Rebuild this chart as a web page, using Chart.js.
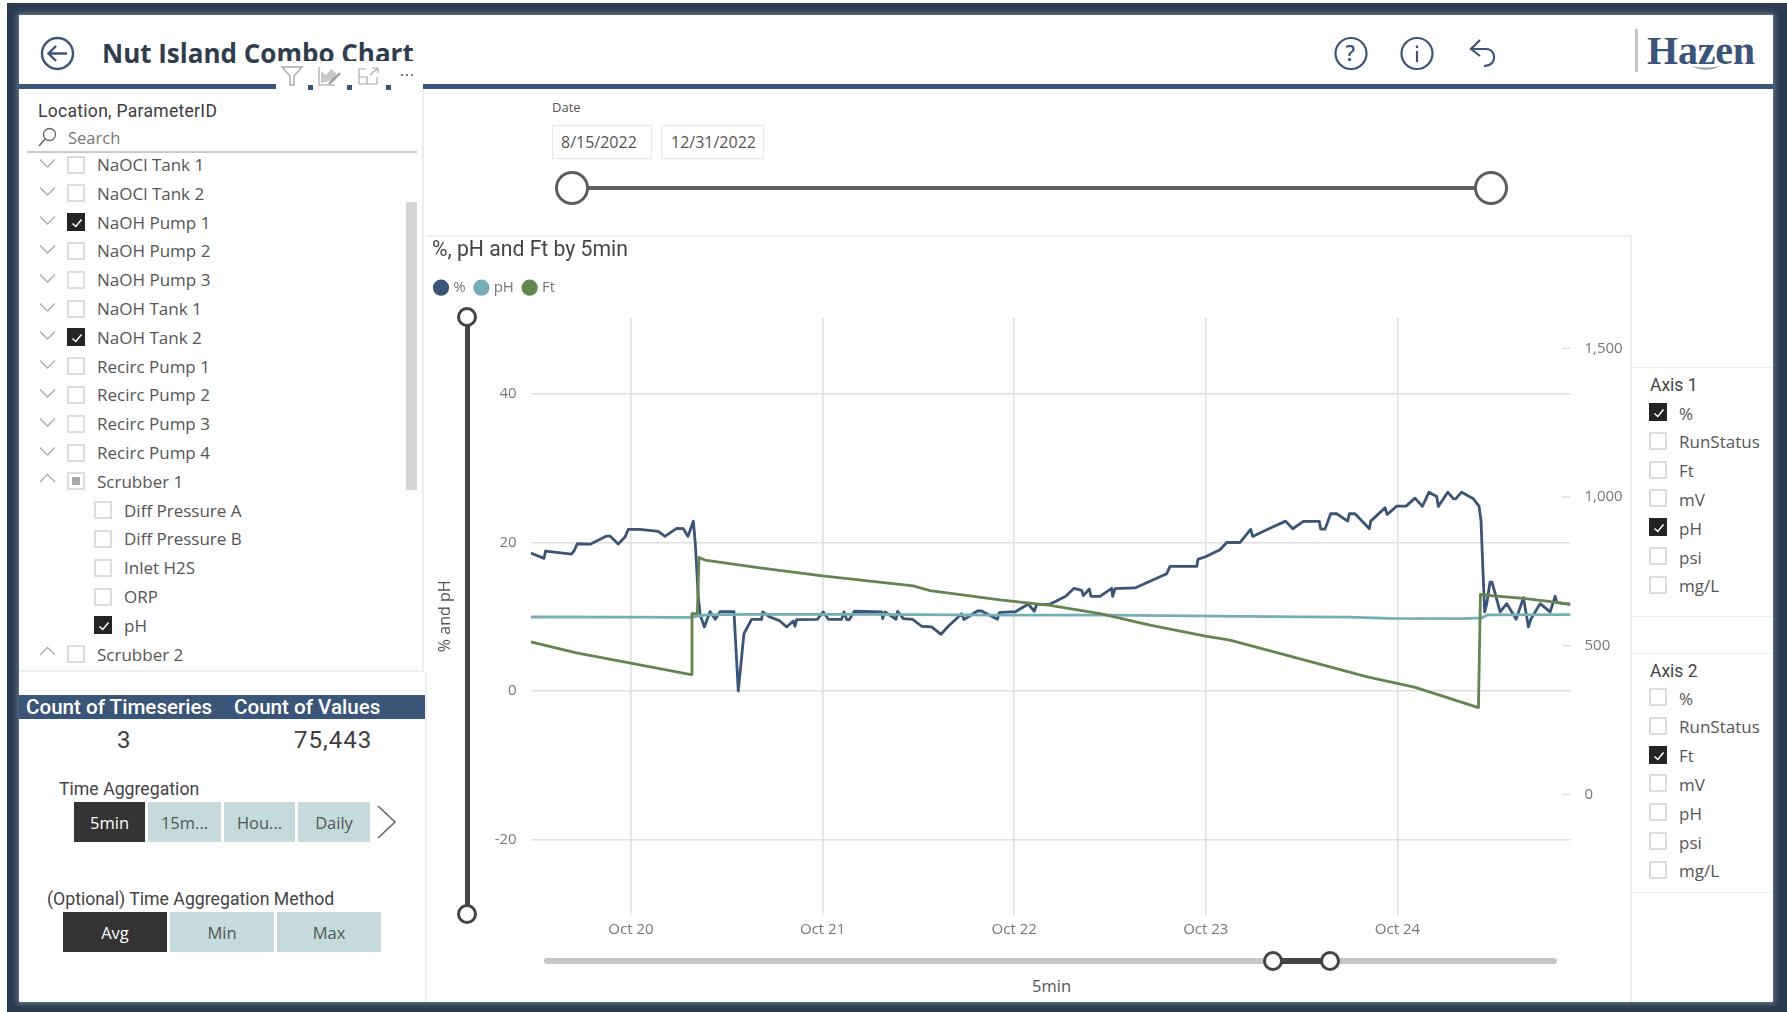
<!DOCTYPE html>
<html>
<head>
<meta charset="utf-8">
<title>Nut Island Combo Chart</title>
<script src="https://cdn.jsdelivr.net/npm/chart.js@4/dist/chart.umd.js"></script>
<style>
  html, body { margin: 0; padding: 0; background: #fff; overflow: hidden; }
  #page { position: relative; width: 1787px; height: 1012px; overflow: hidden; font-family: "Open Sans", sans-serif; color: #444; }
  .abs { position: absolute; }
  .t { position: absolute; white-space: nowrap; transform: translateY(-50%); line-height: 1.2; }
  .din { font-family: Roboto, sans-serif; }
  svg { position: absolute; overflow: visible; }
  #frame { position: absolute; left: 7px; top: 3px; width: 1780px; height: 1009px; background: #2a3a4f; }
  #sheet { position: absolute; left: 19px; top: 15px; width: 1754px; height: 987px; background: #fff; box-shadow: 0 0 5px 2px rgba(120,135,155,.75); }
  .box { position: absolute; box-sizing: border-box; width: 18px; height: 18px; border: 2px solid #dcdcdc; background: #fff; }
  .box.on { background: #252423; border-color: #252423; }
  .box.on svg { left: 1px; top: 1px; }
  .box.mixed::after { content: ""; position: absolute; left: 3px; top: 3px; width: 8px; height: 8px; background: #a8a8a8; }
  .btn { position: absolute; background: #c5dadd; color: #555; display: flex; align-items: center; justify-content: center; font-size: 16.5px; }
  .btn.on { background: #333; color: #fff; }
  #chartWrap { position: absolute; left: 427px; top: 236px; width: 1201px; height: 714px; }
</style>
</head>
<body>
<div id="page">
  <div id="frame"></div>
  <div id="sheet"></div>
  <div id="chartWrap"><canvas id="combo" width="1201" height="714"></canvas></div>
</div>
<script>
// ---- Series: hours relative to midnight on Oct 20, values in each series' own unit ----
const pctHours = [-12.56,-10.9,-10.69,-7.43,-7.1,-6.72,-5.05,-3.05,-2.63,-1.59,-0.75,-0.33,1.13,3.42,4.26,5.72,6.56,7.14,7.52,7.81,8.06,8.43,8.68,9.19,9.9,10.56,11.15,12.9,13.44,14.15,15.11,16.37,16.49,17.41,18.66,19.5,20.33,20.54,20.75,23.34,24.09,24.72,26.39,26.68,27.02,27.35,27.98,31.4,31.52,31.82,33.2,33.41,34.11,35.28,36.41,37.66,38.83,39.75,41.42,41.71,43.38,43.93,45.89,46.14,47.48,48.1,49.77,50.52,50.82,52.49,54.45,55.5,56.45,56.66,57.41,57.62,58.75,60.21,60.34,60.63,63.13,67.1,67.52,70.86,71.03,71.9,73.78,74.62,76.29,77.62,77.87,79.63,82,82.88,84.22,86.22,86.39,86.94,87.64,88.4,89.77,89.98,90.69,92.49,92.66,94.45,94.74,95.91,97.08,98.21,99.13,99.96,100.92,101.13,102.3,103.01,103.3,104.05,105.51,106.22,106.47,106.68,106.93,107.19,107.6,107.85,108.87,109.7,110.87,111.79,112.41,112.71,113.88,115.13,115.76,115.97,117.68];
const pctValues = [18.58,17.86,18.85,18.44,18.94,19.83,19.79,20.87,20.87,19.79,20.73,21.76,21.76,21.49,20.82,21.9,21.85,20.82,21.99,22.88,19.83,12.66,10.19,8.62,10.68,9.65,10.68,10.68,0,7.72,9.65,9.65,10.64,9.96,9.43,8.62,9.43,8.71,9.61,9.65,10.64,9.65,9.65,10.64,9.61,9.61,10.73,10.64,9.74,10.64,9.65,10.73,9.74,9.65,8.71,8.62,7.63,8.71,10.41,9.61,10.77,10.77,9.65,10.55,10.64,10.64,11.71,10.73,11.67,11.67,12.75,13.82,13.55,12.84,13.73,12.75,12.75,13.82,12.75,13.78,13.87,15.8,16.78,16.78,17.77,18.04,19.03,20,20,21.76,20.82,21.72,22.88,21.85,22.84,22.84,21.81,21.81,23.87,23.87,22.88,23.87,23.87,21.85,22.88,24.68,23.78,24.9,24.9,25.98,24.86,26.78,26.2,24.86,26.78,25.89,25.89,26.78,25.89,24.9,22.97,17.14,10.64,11.76,14.67,14.67,10.64,11.76,9.65,12.57,8.62,9.65,11.76,10.64,12.75,11.89,11.67];

const phHours = [-12.56,0,6,7.5,8.5,9.5,15,30,46,60,70,80,90,95,104,106.6,107.3,117.68];
const phValues = [9.96,9.95,9.92,9.9,10.1,10.25,10.3,10.3,10.2,10.2,10.1,10,9.95,9.78,9.75,9.85,10.25,10.28];

const ftHours = [-12.56,-6.81,7.52,7.64,8.31,8.52,9.27,16.16,23.97,35.37,37.45,46.22,52.49,58.75,65.01,71.97,75.03,92.24,98.24,106.15,106.4,108.02,111.78,114.7,117.65];
const ftValues = [513,476,403,608,608,797,788,762,735,701,685,654,636,608,569,532,519,395,360,292,673,668,659,650,640];

const seriesNames = ['%', 'pH', 'Ft'];
const dayHours = [0, 24, 48, 72, 96];
const dayLabels = ['Oct 20', 'Oct 21', 'Oct 22', 'Oct 23', 'Oct 24'];
const leftTicks = [-20, 0, 20, 40];
const rightTicks = [0, 500, 1000, 1500];

// ---- Slicer and card contents ----
const locationRows = ['NaOCl Tank 1','NaOCl Tank 2','NaOH Pump 1','NaOH Pump 2','NaOH Pump 3','NaOH Tank 1','NaOH Tank 2','Recirc Pump 1','Recirc Pump 2','Recirc Pump 3','Recirc Pump 4','Scrubber 1','Diff Pressure A','Diff Pressure B','Inlet H2S','ORP','pH','Scrubber 2'];
const locationChecked = ['NaOH Pump 1','NaOH Tank 2','pH'];
const locationChildren = ['Diff Pressure A','Diff Pressure B','Inlet H2S','ORP','pH'];
const unitRows = ['%','RunStatus','Ft','mV','pH','psi','mg/L'];
const axis1Checked = ['%','pH'];
const axis2Checked = ['Ft'];

const NAVY = '#3b5578', TEAL = '#76aeb5', GREEN = '#64854d', INK = '#444', SOFT = '#777';
const page = document.getElementById('page');

function text(x, y, str, css, cls) {
  const el = document.createElement('div');
  el.className = 't ' + (cls || '');
  el.style.left = x + 'px';
  el.style.top = y + 'px';
  el.style.cssText += css || '';
  el.textContent = str;
  page.appendChild(el);
  return el;
}
function rect(x, y, w, h, css) {
  const el = document.createElement('div');
  el.className = 'abs';
  el.style.cssText = `left:${x}px;top:${y}px;width:${w}px;height:${h}px;` + (css || '');
  page.appendChild(el);
  return el;
}
function svg(x, y, w, h, inner) {
  const ns = 'http://www.w3.org/2000/svg';
  const s = document.createElementNS(ns, 'svg');
  s.setAttribute('width', w); s.setAttribute('height', h);
  s.setAttribute('viewBox', `0 0 ${w} ${h}`);
  s.style.left = x + 'px'; s.style.top = y + 'px';
  s.innerHTML = inner;
  page.appendChild(s);
  return s;
}
function checkbox(x, cy, state) {
  const b = document.createElement('div');
  b.className = 'box' + (state === 'on' ? ' on' : state === 'mixed' ? ' mixed' : '');
  b.style.left = x + 'px';
  b.style.top = (cy - 9) + 'px';
  if (state === 'on') {
    b.innerHTML = '<svg width="14" height="14" viewBox="0 0 14 14"><path d="M2.5 7.5 L5.8 10.5 L11.5 3.5" fill="none" stroke="#fff" stroke-width="1.5"/></svg>';
  }
  page.appendChild(b);
}

// ---- Header ----
text(102, 53.5, 'Nut Island Combo Chart', 'font-size:26px;font-weight:700;color:#2f3d4e;');
svg(40, 36, 36, 36, `<circle cx="17.5" cy="17.5" r="15.5" fill="none" stroke="${NAVY}" stroke-width="2.4"/><path d="M27 17.5 H9 M16 10 L8.5 17.5 L16 25" fill="none" stroke="${NAVY}" stroke-width="2.4"/>`);
svg(1334, 36, 36, 36, `<circle cx="17" cy="17.5" r="15.5" fill="none" stroke="${NAVY}" stroke-width="2.2"/>`);
text(1345.5, 53.5, '?', `font-size:21px;color:${NAVY};font-weight:600;`);
svg(1400, 36, 36, 36, `<circle cx="17" cy="17.5" r="15.5" fill="none" stroke="${NAVY}" stroke-width="2.2"/><path d="M17 15 V26 M17 9.5 V12" fill="none" stroke="${NAVY}" stroke-width="2.2"/>`);
svg(1468, 38, 30, 30, `<path d="M12 2 L3 11 L12 18 M3 11 H18 C26 11 28 20 24 25 C22 27 20 28 16 28" fill="none" stroke="${NAVY}" stroke-width="2.2"/>`);
rect(1635, 29, 2.5, 43, 'background:#c8c8c8;');
text(1647, 51, 'Hazen', `font-family:"Liberation Serif",serif;font-size:40px;font-weight:700;color:${NAVY};letter-spacing:-0.2px;`);
svg(1690, 65, 32, 7, `<path d="M2 1 C10 6 22 6 30 1 C22 3 10 3 2 1 Z" fill="#8fa3b5"/>`);

// Rule below the header with the visual's hover toolbar interrupting it
rect(19, 83.5, 1754, 5.5, `background:${NAVY};`);
rect(276, 60.5, 147, 29.5, 'background:#fff;');
rect(308, 85, 5, 5, `background:${NAVY};`);
rect(347, 85, 5, 5, `background:${NAVY};`);
rect(386, 85, 5, 5, `background:${NAVY};`);
svg(280, 64, 24, 24, `<path d="M2 3 H22 L14 12 V21 L10 21 V12 Z" fill="none" stroke="#a9a9a9" stroke-width="1.4"/>`);
svg(318, 65, 24, 22, `<path d="M1 2 V20 H17" fill="none" stroke="#bdbdbd" stroke-width="1.6"/><path d="M3 6 L8 10 L13 4 L18 8 V14 L3 18 Z" fill="#c8c8c8"/><path d="M11 19 L22 8" stroke="#9a9a9a" stroke-width="2.4"/>`);
svg(358, 66, 22, 20, `<path d="M8 3 H1 V18 H19 V11 M1 11 H9 V18 M12 9 L20 2 M14 2 H20 V7" fill="none" stroke="#a9a9a9" stroke-width="1.2"/>`);
[402, 407, 412].forEach(x => rect(x - 1, 74, 2, 2, 'background:#777;'));

// ---- Location slicer ----
rect(19, 90, 405, 582, 'box-sizing:border-box;border-right:2px solid #eee;border-bottom:2px solid #eee;');
text(38, 111, 'Location, ParameterID', 'font-size:17.5px;letter-spacing:.3px;color:#3c3c3c;', 'din');
svg(38, 127, 20, 20, `<circle cx="11.5" cy="7.5" r="6" fill="none" stroke="#666" stroke-width="1.3"/><path d="M7 12 L1 19" stroke="#666" stroke-width="1.4"/>`);
text(68, 138, 'Search', 'font-size:16.5px;color:#777;');
rect(27, 151, 390, 1.5, 'background:#c8c8c8;');
rect(405.5, 201.5, 11, 288, 'background:#d4d4d4;');

locationRows.forEach((name, i) => {
  const cy = 165 + 28.8 * i;
  const child = locationChildren.includes(name) && i > 11;
  const indent = child ? 27 : 0;
  const expanded = name.startsWith('Scrubber');
  if (!child) {
    const chev = expanded ? 'M1 9 L8.5 1.5 L16 9' : 'M1 1.5 L8.5 9 L16 1.5';
    svg(38.5, cy - (expanded ? 9 : 7.5), 18, 11, `<path d="${chev}" fill="none" stroke="#aaa" stroke-width="1.3"/>`);
  }
  const state = locationChecked.includes(name) ? 'on' : name === 'Scrubber 1' ? 'mixed' : '';
  checkbox(67 + indent, cy - 0.5, state);
  text(97 + indent, cy, name, 'font-size:17px;color:#555;');
});

// ---- Count card ----
rect(19, 695, 406, 23.5, `background:${NAVY};`);
text(26, 707, 'Count of Timeseries', 'font-size:20.6px;font-weight:500;color:#fff;', 'din');
text(234, 707, 'Count of Values', 'font-size:20.6px;font-weight:500;color:#fff;', 'din');
text(117, 740, '3', 'font-size:24px;color:#3d3d3d;', 'din');
text(294, 740, '75,443', 'font-size:24px;color:#3d3d3d;letter-spacing:1px;', 'din');

// ---- Aggregation buttons ----
text(59, 790, 'Time Aggregation', 'font-size:17.7px;color:#444;', 'din');
[['5min',74,71,true],['15m...',148,73],['Hou...',224,71],['Daily',298,72]].forEach(([label,x,w,on]) => {
  const b = rect(x, 802, w, 40);
  b.className = 'btn' + (on ? ' on' : '');
  b.textContent = label;
});
svg(376, 804, 22, 36, `<path d="M2 2 L19 18 L2 34" fill="none" stroke="#666" stroke-width="1.6"/>`);
text(47, 900, '(Optional) Time Aggregation Method', 'font-size:17.7px;color:#444;', 'din');
[['Avg',63,104,true],['Min',170,104],['Max',277,104]].forEach(([label,x,w,on]) => {
  const b = rect(x, 912, w, 40);
  b.className = 'btn' + (on ? ' on' : '');
  b.textContent = label;
});
rect(425, 672, 1.5, 330, 'background:#eee;');

// ---- Date slicer ----
text(552, 108, 'Date', 'font-size:13px;color:#555;');
rect(552, 125, 100, 33.5, 'box-sizing:border-box;border:1.5px solid #e8e8e8;');
rect(661, 125, 103, 33.5, 'box-sizing:border-box;border:1.5px solid #e8e8e8;');
text(561, 143, '8/15/2022', 'font-size:16px;color:#555;');
text(671, 143, '12/31/2022', 'font-size:16px;color:#555;');
rect(572, 186, 919, 4, 'background:#605e5c;');
[572, 1491].forEach(x => rect(x - 17, 171, 34, 34, 'box-sizing:border-box;border:3px solid #605e5c;border-radius:50%;background:#fff;'));

// ---- Chart card borders and zoom sliders ----
rect(427, 235, 1203, 1.5, 'background:#eee;');
rect(1630, 235, 1.5, 767, 'background:#eee;');
rect(465, 317, 5, 597, 'background:#444;');
[317, 914].forEach(y => rect(457, y - 10, 20, 20, 'box-sizing:border-box;border:3.5px solid #444;border-radius:50%;background:#fff;'));
rect(544, 958, 1013, 6, 'background:#c8c6c4;border-radius:3px;');
rect(1273, 958, 57, 6, 'background:#444;');
[1273, 1330].forEach(x => rect(x - 10, 951, 20, 20, 'box-sizing:border-box;border:3.5px solid #444;border-radius:50%;background:#fff;'));
text(1032, 986, '5min', 'font-size:16.5px;color:#555;');

// ---- Axis selection panels ----
function axisPanel(title, top, height, checked, rowShift) {
  rect(1631, top, 142, height, 'box-sizing:border-box;border:1.5px solid #eee;border-right:none;');
  text(1650, top + 17.5, title, 'font-size:17.5px;color:#444;', 'din');
  unitRows.forEach((name, i) => {
    const cy = top + 45 + rowShift + 28.8 * i;
    checkbox(1649, cy, checked.includes(name) ? 'on' : '');
    text(1679, cy + 1.5, name, 'font-size:17px;color:#555;');
  });
}
axisPanel('Axis 1', 367, 250, axis1Checked, 0);
axisPanel('Axis 2', 653, 240, axis2Checked, -1);

// ---- Combo chart ----
// Short dashes at the right-axis tick positions, inside the plot's right edge.
const rightTickDashes = {
  id: 'rightTickDashes',
  afterDatasetsDraw(chart) {
    const { ctx, chartArea, scales } = chart;
    ctx.save();
    ctx.strokeStyle = '#dcdcdc';
    ctx.lineWidth = 1.5;
    rightTicks.forEach(v => {
      const y = scales.yRight.getPixelForValue(v);
      ctx.beginPath();
      ctx.moveTo(chartArea.right - 8, y);
      ctx.lineTo(chartArea.right, y);
      ctx.stroke();
    });
    ctx.restore();
  }
};

// Extra room under the legend and a small leftward nudge so its dots sit under the title.
const legendPlacement = {
  id: 'legendPlacement',
  beforeInit(chart) {
    const fit = chart.legend.fit;
    chart.legend.fit = function () {
      fit.call(this);
      this.height += 12.4;
    };
  },
  afterLayout(chart) {
    chart.legend.left -= 6.75;
  }
};

const zipPoints = (xs, ys) => xs.map((x, i) => ({ x, y: ys[i] }));
const lineStyle = color => ({ borderColor: color, backgroundColor: color, borderWidth: 2.8, pointRadius: 0, tension: 0, borderJoinStyle: 'round', fill: false });
const tickFont = { family: '"Open Sans", sans-serif', size: 15 };

new Chart(document.getElementById('combo'), {
  type: 'line',
  data: {
    datasets: [
      { label: seriesNames[0], data: zipPoints(pctHours, pctValues), yAxisID: 'yLeft', order: 3, ...lineStyle(NAVY) },
      { label: seriesNames[1], data: zipPoints(phHours, phValues), yAxisID: 'yLeft', order: 2, ...lineStyle(TEAL) },
      { label: seriesNames[2], data: zipPoints(ftHours, ftValues), yAxisID: 'yRight', order: 1, ...lineStyle(GREEN) }
    ]
  },
  options: {
    responsive: false,
    animation: false,
    layout: { padding: { left: 5, top: 0, right: 0, bottom: 0 } },
    plugins: {
      tooltip: { enabled: false },
      title: {
        display: true,
        text: '%, pH and Ft by 5min',
        align: 'start',
        color: '#444',
        font: { family: 'Roboto, sans-serif', size: 21.2, weight: '400', lineHeight: 1.2 },
        padding: { top: 2, bottom: 5.8 }
      },
      legend: {
        display: true,
        position: 'top',
        align: 'start',
        labels: {
          usePointStyle: true,
          pointStyle: 'circle',
          boxWidth: 9.5,
          boxHeight: 9.5,
          padding: 11,
          color: SOFT,
          font: { family: '"Open Sans", sans-serif', size: 15 },
          sort: (a, b) => a.datasetIndex - b.datasetIndex
        }
      }
    },
    scales: {
      x: {
        type: 'linear',
        min: -12.56,
        max: 117.68,
        afterFit: s => { s.height = 35; },
        afterBuildTicks: s => { s.ticks = dayHours.map(value => ({ value })); },
        grid: { color: '#e0e0e0', lineWidth: 1.6, drawTicks: false },
        border: { display: false },
        ticks: {
          autoSkip: false,
          maxRotation: 0,
          padding: 6,
          color: SOFT,
          font: tickFont,
          callback: value => dayLabels[dayHours.indexOf(value)] ?? ''
        }
      },
      yLeft: {
        type: 'linear',
        position: 'left',
        min: -30.2,
        max: 50.3,
        afterFit: s => { s.width = 98.7; },
        afterBuildTicks: s => { s.ticks = leftTicks.map(value => ({ value })); },
        grid: { color: '#e0e0e0', lineWidth: 1.6, drawTicks: false },
        border: { display: false },
        title: {
          display: true,
          text: '% and pH',
          color: '#555',
          font: { family: '"Open Sans", sans-serif', size: 16 },
          padding: { top: 4, bottom: 0 }
        },
        ticks: { padding: 14, color: SOFT, font: tickFont, callback: v => String(v) }
      },
      yRight: {
        type: 'linear',
        position: 'right',
        min: -405.6,
        max: 1603.4,
        afterFit: s => { s.width = 57.5; },
        afterBuildTicks: s => { s.ticks = rightTicks.map(value => ({ value })); },
        grid: { drawOnChartArea: false, drawTicks: false },
        border: { display: false },
        ticks: { padding: 14, color: SOFT, font: tickFont, callback: v => v.toLocaleString('en-US') }
      }
    }
  },
  plugins: [legendPlacement, rightTickDashes]
});
</script>
</body>
</html>
